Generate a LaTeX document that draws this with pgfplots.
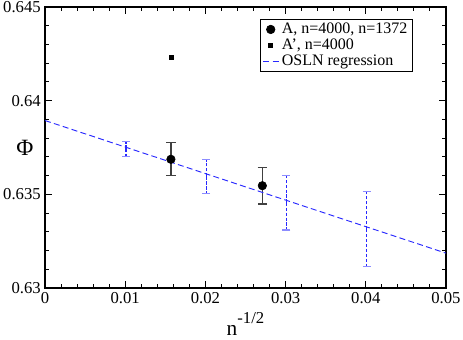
\documentclass[border=0pt]{standalone}
\usepackage{pgfplots}
\pgfplotsset{compat=1.18}
\usetikzlibrary{calc}
\usepackage{fontspec}
\setmainfont{Liberation Serif}
\definecolor{osln}{RGB}{40,40,255}
\definecolor{oslncap}{RGB}{140,140,255}
\pgfplotsset{shortline legend/.style={legend image code/.code={\draw[##1] (-0.5pt,0pt) -- (11pt,0pt);}}}
\begin{document}
\begin{tikzpicture}
\begin{axis}[
  scale only axis,
  width=300.75pt, height=210.75pt,
  xmin=0, xmax=0.05, ymin=0.63, ymax=0.645,
  xtick={0,0.01,0.02,0.03,0.04,0.05}, ytick={0.63,0.635,0.64,0.645},
  scaled x ticks=false, scaled y ticks=false,
  minor x tick num=4, minor y tick num=4,
  tick align=inside, tick pos=both,
  major tick length=5pt, minor tick length=3pt,
  axis line style={line width=1pt},
  every tick/.style={black, line width=0.8pt},
  /pgf/number format/assume math mode=true,
  /pgf/number format/fixed, /pgf/number format/precision=3,
  tick label style={font=\fontsize{12.5}{13}\selectfont},
  yticklabel style={inner sep=1pt, xshift=-2pt},
  xticklabel style={inner sep=1pt, yshift=-2pt},
  xlabel={\fontsize{16}{17}\selectfont n\raisebox{1.3ex}{\fontsize{12.5}{13}\selectfont -1/2}},
  xlabel style={at={(axis description cs:0.5,-0.17)}, anchor=base, inner sep=0pt},
  ylabel={\fontsize{17.5}{18}\selectfont Φ},
  ylabel style={at={(axis description cs:-0.05,0.5)}, anchor=center, rotate=-90, inner sep=0pt},
  legend style={at={(0.536,0.958)}, anchor=north west, draw=black, line width=0.5pt,
    font=\fontsize{12}{13}\selectfont, inner xsep=2pt, inner ysep=1pt, row sep=-1.5pt,
    cells={anchor=west}},
  legend cell align=left,
  legend image code/.code={\draw[mark repeat=2, mark phase=2, #1]
    plot coordinates {(0pt,0pt) (5pt,0pt) (10pt,0pt)};},
]
\coordinate (bl) at (rel axis cs:0,0);
\coordinate (tr) at (rel axis cs:1,1);
% black points with error bars
\addplot[black, only marks, mark=*, mark size=3.2pt,
  error bars/.cd, y dir=both, y explicit,
  error bar style={black!75, line width=1pt},
  error mark options={rotate=90, mark size=3.5pt, black!75, line width=1pt}]
  coordinates {(0.0157,0.63687) +- (0,0.00088) (0.0271,0.63546) +- (0,0.00097)};
\addlegendentry{A, n=4000, n=1372}
\addplot[black, only marks, mark=square*, mark size=1.5pt,
  error bars/.cd, y dir=both, y explicit,
  error bar style={black!75, line width=0.6pt},
  error mark options={rotate=90, mark size=2pt, black!75, line width=0.6pt}]
  coordinates {(0.0158,0.64232) +- (0,0.00008)};
\addlegendentry{A', n=4000}
\addplot[color=osln, line width=0.7pt, dash pattern=on 4.5pt off 2.5pt, shortline legend]
  coordinates {(0,0.63894) (0.05,0.63186)};
\addlegendentry{OSLN regression}
% OSLN error bars
\addplot[color=osln, draw=none, mark=none, forget plot,
  error bars/.cd, y dir=both, y explicit,
  error bar style={draw=osln, line width=1pt, dash pattern=on 2.5pt off 1.2pt},
  error mark options={rotate=90, mark size=3pt, draw=oslncap, line width=0.9pt, solid}]
  coordinates {(0.0101,0.63743) +- (0,0.00041) (0.0201,0.63596) +- (0,0.00092)
               (0.0301,0.63455) +- (0,0.00145) (0.0401,0.63315) +- (0,0.00199)};
\end{axis}
\pgfresetboundingbox
\path ($(bl)+(-33.75pt,-38.25pt)$) rectangle ($(tr)+(12.75pt,5.25pt)$);
\end{tikzpicture}
\end{document}
